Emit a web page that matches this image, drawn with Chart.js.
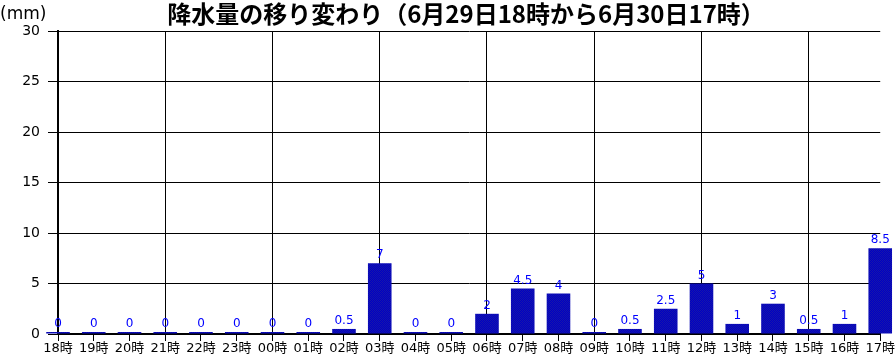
<!DOCTYPE html>
<html lang="ja">
<head>
<meta charset="utf-8">
<title>降水量の移り変わり</title>
<script src="https://cdn.jsdelivr.net/npm/chart.js@4/dist/chart.umd.min.js"></script>
<style>
  html, body { margin: 0; padding: 0; background: #fff; }
  #wrap { width: 895px; height: 359px; position: relative; }
</style>
</head>
<body>
<div id="wrap"><canvas id="rain-chart"></canvas></div>
<script>
// データ
const hours = ['18時', '19時', '20時', '21時', '22時', '23時', '00時', '01時', '02時', '03時', '04時', '05時',
               '06時', '07時', '08時', '09時', '10時', '11時', '12時', '13時', '14時', '15時', '16時', '17時'];
const rainfall = [0, 0, 0, 0, 0, 0, 0, 0, 0.5, 7, 0, 0, 2, 4.5, 4, 0, 0.5, 2.5, 5, 1, 3, 0.5, 1, 8.5];
const yTicks = [0, 5, 10, 15, 20, 25, 30];
const titleText = '降水量の移り変わり（6月29日18時から6月30日17時）';
const unitText = '(mm)';

const FONT = '"DejaVu Sans", "Noto Sans CJK JP", sans-serif';

// 棒の網目模様
function makePattern() {
    const c = document.createElement('canvas');
    c.width = 2; c.height = 2;
    const g = c.getContext('2d');
    g.fillStyle = '#0000c4'; g.fillRect(0, 0, 2, 2);
    g.fillStyle = '#1818a8'; g.fillRect(0, 0, 1, 1); g.fillRect(1, 1, 1, 1);
    return g.createPattern(c, 'repeat');
}

// タイトルと値ラベル
const labelPlugin = {
    id: 'labels',
    afterDraw(chart) {
        const ctx = chart.ctx;
        ctx.save();
        ctx.fillStyle = '#000';
        ctx.textBaseline = 'middle';
        ctx.font = 'bold 24px "Noto Sans CJK JP", sans-serif';
        ctx.textAlign = 'center';
        ctx.fillText(titleText, 466, 14);
        ctx.font = '17px ' + FONT;
        ctx.textAlign = 'left';
        ctx.fillText(unitText, 0, 15);

        ctx.fillStyle = '#0000ff';
        ctx.font = '12px ' + FONT;
        ctx.textAlign = 'center';
        ctx.textBaseline = 'bottom';
        chart.getDatasetMeta(0).data.forEach((bar, i) => {
            ctx.fillText(String(rainfall[i]), bar.x, bar.y - 2);
        });
        ctx.restore();
    }
};

const ctx = document.getElementById('rain-chart').getContext('2d');
new Chart(ctx, {
    type: 'bar',
    data: {
        labels: hours,
        datasets: [{
            data: rainfall,
            backgroundColor: makePattern(),
            borderWidth: 0,
            minBarLength: 2,
            barPercentage: 0.66,
            categoryPercentage: 1,
            clip: false
        }]
    },
    options: {
        responsive: true,
        maintainAspectRatio: false,
        animation: false,
        layout: { padding: { top: 31, right: 14, left: 0, bottom: 0 } },
        plugins: {
            legend: { display: false },
            title: { display: false },
            tooltip: { enabled: false }
        },
        scales: {
            x: {
                offset: false,
                afterFit: (s) => { s.height = 25; },
                border: { color: '#000', width: 2 },
                grid: {
                    offset: false,
                    color: (c) => (c.index % 3 === 0 ? '#000' : 'rgba(0,0,0,0)'),
                    tickColor: '#000',
                    tickLength: 7,
                    lineWidth: 1
                },
                ticks: {
                    color: '#000',
                    font: { family: FONT, size: 13 },
                    padding: 0,
                    maxRotation: 0,
                    autoSkip: false
                }
            },
            y: {
                min: 0,
                max: 30,
                afterFit: (s) => { s.width = 58; },
                afterBuildTicks: (s) => { s.ticks = yTicks.map(v => ({ value: v })); },
                border: { color: '#000', width: 2 },
                grid: {
                    color: '#000',
                    tickColor: '#000',
                    tickLength: 10,
                    lineWidth: 1
                },
                ticks: {
                    color: '#000',
                    font: { family: FONT, size: 14 },
                    padding: 8
                }
            }
        }
    },
    plugins: [labelPlugin]
});
</script>
</body>
</html>
